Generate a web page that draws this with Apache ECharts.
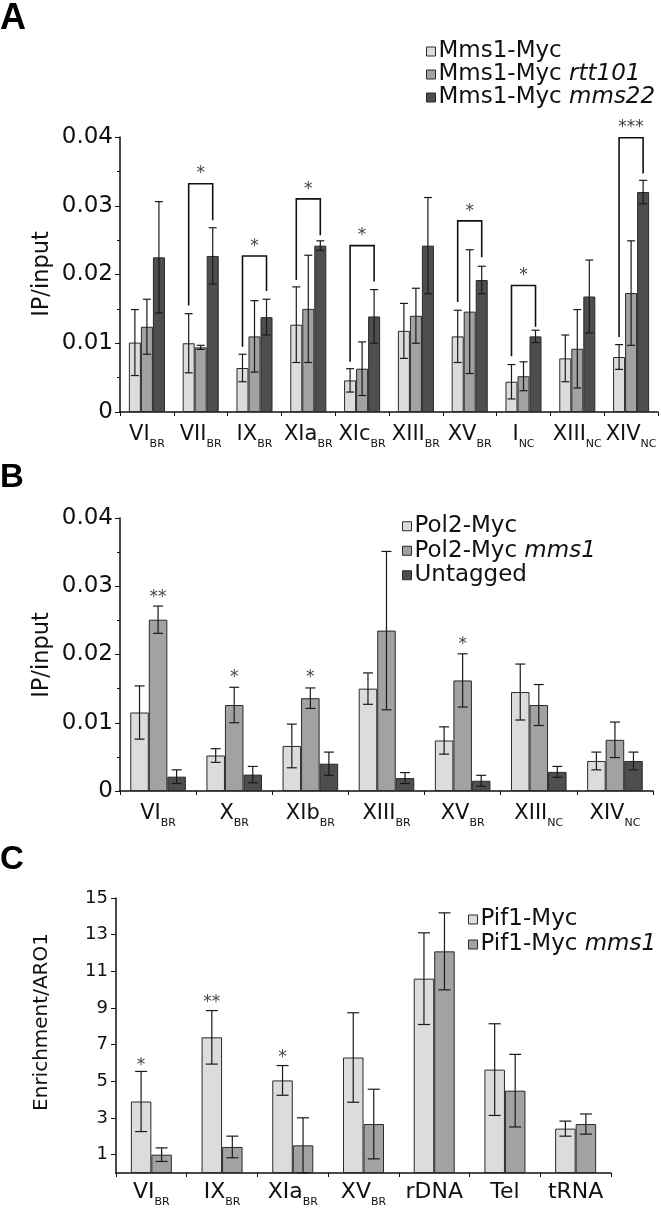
<!DOCTYPE html>
<html><head><meta charset="utf-8">
<script src="https://cdn.jsdelivr.net/npm/echarts@6/dist/echarts.min.js"></script>
<style>html,body{margin:0;padding:0;background:#fff}#c{width:661px;height:1210px}</style>
</head><body><div id="c"></div>
<script>
// ---------- Panel A data ----------
const catsA = ['VI_BR','VII_BR','IX_BR','XIa_BR','XIc_BR','XIII_BR','XV_BR','I_NC','XIII_NC','XIV_NC'];
const seriesNamesA = ['Mms1-Myc','Mms1-Myc rtt101','Mms1-Myc mms22'];
const a1 = [0.0101,0.0100,0.0064,0.0127,0.0046,0.0118,0.0110,0.0044,0.0078,0.0080];
const a1Err = [0.0048,0.0043,0.0020,0.0055,0.0017,0.0040,0.0038,0.0025,0.0034,0.0018];
const a2 = [0.0124,0.0094,0.0110,0.0150,0.0063,0.0140,0.0146,0.0052,0.0092,0.0173];
const a2Err = [0.0040,0.0003,0.0052,0.0078,0.0039,0.0040,0.0090,0.0021,0.0057,0.0076];
const a3 = [0.0225,0.0227,0.0138,0.0242,0.0139,0.0242,0.0192,0.0110,0.0168,0.0320];
const a3Err = [0.0081,0.0041,0.0026,0.0007,0.0039,0.0070,0.0020,0.0009,0.0053,0.0017];
// significance brackets: [category, top, left leg end, right leg end]
const bracketCatsA = [1,2,3,4,6,7,9];
const bracketTopA = [0.0332,0.0227,0.0310,0.0242,0.0278,0.0184,0.0399];
const bracketLeftA = [0.0155,0.0095,0.0192,0.0073,0.0160,0.0081,0.0109];
const bracketRightA = [0.0279,0.0176,0.0257,0.0190,0.0225,0.0124,0.0347];
const starsA = ['*','*','*','*','*','*','***'];

// ---------- Panel B data ----------
const catsB = ['VI_BR','X_BR','XIb_BR','XIII_BR','XV_BR','XIII_NC','XIV_NC'];
const seriesNamesB = ['Pol2-Myc','Pol2-Myc mms1','Untagged'];
const b1 = [0.0115,0.0052,0.0066,0.0150,0.0074,0.0145,0.0044];
const b1Err = [0.0039,0.0010,0.0032,0.0023,0.0020,0.0041,0.0013];
const b2 = [0.0251,0.0126,0.0136,0.0235,0.0162,0.0126,0.0075];
const b2Err = [0.0020,0.0026,0.0015,0.0116,0.0039,0.0030,0.0026];
const b3 = [0.0021,0.0024,0.0040,0.0019,0.0015,0.0028,0.0044];
const b3Err = [0.0010,0.0012,0.0017,0.0008,0.0008,0.0008,0.0013];
const starCatsB = [0,1,2,4];
const starYB = [0.0289,0.0172,0.0172,0.0221];
const starsB = ['**','*','*','*'];

// ---------- Panel C data ----------
const catsC = ['VI_BR','IX_BR','XIa_BR','XV_BR','rDNA','Tel','tRNA'];
const seriesNamesC = ['Pif1-Myc','Pif1-Myc mms1'];
const c1 = [3.9,7.4,5.05,6.3,10.6,5.64,2.42];
const c1Err = [1.64,1.46,0.81,2.44,2.5,2.5,0.41];
const c2 = [1.0,1.42,1.51,2.67,12.09,4.49,2.67];
const c2Err = [0.37,0.59,1.5,1.9,2.1,1.98,0.55];
const starCatsC = [0,1,2];
const starYC = [6.1,9.5,6.5];
const starsC = ['*','**','*'];
const yTicksC = [1,3,5,7,9,11,13,15];

const colors = ['#dcdcdc','#a2a2a2','#4e4e4e'];
const FONT = 'DejaVu Sans';

const chart = echarts.init(document.getElementById('c'), null, {renderer:'canvas'});

function catLabel(v){
  const p = v.split('_');
  return p.length > 1 ? p[0] + '{s|' + p[1] + '}' : p[0];
}
function legendFmt(name){
  const k = name.indexOf(' ');
  return k < 0 ? name : name.slice(0,k) + ' {i|' + name.slice(k+1) + '}';
}
function slotX(api, idx, val, slot, n, gap){
  const c = api.coord([idx, val]);
  const band = api.size([1,0])[0];
  const bw = band*(1-gap)/n;
  return c[0] + (slot-(n-1)/2)*bw;
}
function errSeries(g, vals, errs, slot, n, gap, cap){
  return {type:'custom', xAxisIndex:g, yAxisIndex:g, z:5, silent:true,
    data: vals.map((v,i)=>[i,v,errs[i]]), encode:{x:0,y:1},
    renderItem:(params, api)=>{
      const i=api.value(0), v=api.value(1), e=api.value(2);
      const x = slotX(api,i,v,slot,n,gap);
      const yt = api.coord([i,v+e])[1], yb = api.coord([i,v-e])[1];
      const st = {stroke:'#1a1a1a', lineWidth:1.2};
      return {type:'group', children:[
        {type:'line', shape:{x1:x,y1:yt,x2:x,y2:yb}, style:st},
        {type:'line', shape:{x1:x-cap,y1:yt,x2:x+cap,y2:yt}, style:st},
        {type:'line', shape:{x1:x-cap,y1:yb,x2:x+cap,y2:yb}, style:st}
      ]};
    }};
}
function bracketSeries(g, cats, tops, lefts, rights, n, gap){
  return {type:'custom', xAxisIndex:g, yAxisIndex:g, z:6, silent:true,
    data: cats.map((c,k)=>[c,tops[k],lefts[k],rights[k]]), encode:{x:0,y:1},
    renderItem:(params, api)=>{
      const i=api.value(0), t=api.value(1);
      const xl = slotX(api,i,t,0,n,gap), xr = slotX(api,i,t,n-1,n,gap);
      const yt = api.coord([i,t])[1];
      const yl = api.coord([i,api.value(2)])[1], yr = api.coord([i,api.value(3)])[1];
      return {type:'polyline', shape:{points:[[xl,yl],[xl,yt],[xr,yt],[xr,yr]]},
        style:{stroke:'#111', lineWidth:1.6, fill:null}};
    }};
}
function starSeries(g, cats, ys, labels, slot, n, gap){
  return {type:'custom', xAxisIndex:g, yAxisIndex:g, z:7, silent:true,
    data: cats.map((c,k)=>[c,ys[k]]), encode:{x:0,y:1},
    renderItem:(params, api)=>{
      const i=api.value(0), v=api.value(1);
      const x = slotX(api,i,v,slot,n,gap);
      const y = api.coord([i,v])[1];
      return {type:'text', x:x, y:y+4, style:{text:labels[params.dataIndex], fill:'#444',
        font:'17px "DejaVu Sans"', align:'center', verticalAlign:'middle'}};
    }};
}
function bar(name, g, data, color, gap){
  return {name, type:'bar', xAxisIndex:g, yAxisIndex:g, data, barGap:'0%', barCategoryGap:(gap*100)+'%',
    itemStyle:{color, borderColor:'#2a2a2a', borderWidth:1}, silent:true};
}
function xAxis(g, data, fs, sub, margin){
  return {type:'category', gridIndex:g, data,
    axisLine:{lineStyle:{color:'#111', width:1.5}},
    axisTick:{show:true, length:4, lineStyle:{color:'#111'}},
    axisLabel:{interval:0, margin, color:'#111', fontFamily:FONT, fontSize:fs, formatter:catLabel,
      rich:{s:{fontSize:sub, fontFamily:FONT, color:'#111', verticalAlign:'bottom', padding:[0,0,-5,0]}}}};
}
function legend(names, left, top, lh){
  return {data:names, orient:'vertical', left, top, icon:'rect', itemWidth:9, itemHeight:9, itemGap:0,
    formatter:legendFmt, textStyle:{fontFamily:FONT, fontSize:23, lineHeight:lh, color:'#111', padding:[0,0,0,-2],
    rich:{i:{fontFamily:FONT, fontSize:23, fontStyle:'italic', color:'#111'}}},
    itemStyle:{borderColor:'#2a2a2a', borderWidth:1}};
}
const gA = 0.33, gB = 0.27, gC = 0.42;

const option = {
  animation:false,
  backgroundColor:'#fff',
  grid:[
    {left:120, top:137, width:538, height:275},
    {left:120, top:518, width:533, height:273},
    {left:116, top:898, width:495, height:275}
  ],
  xAxis:[ xAxis(0,catsA,21,11,12), xAxis(1,catsB,21,11,12), xAxis(2,catsC,22,11,8) ],
  yAxis:[
    {type:'value', gridIndex:0, min:0, max:0.04, interval:0.01,
      axisLine:{show:true, lineStyle:{color:'#111', width:1.5}},
      axisTick:{show:true, length:5, lineStyle:{color:'#111'}},
      minorTick:{show:true, splitNumber:2, length:3, lineStyle:{color:'#111'}},
      splitLine:{show:false},
      axisLabel:{margin:7, color:'#111', fontFamily:FONT, fontSize:23, formatter:v=>v===0?'0':v.toFixed(2)}},
    {type:'value', gridIndex:1, min:0, max:0.04, interval:0.01,
      axisLine:{show:true, lineStyle:{color:'#111', width:1.5}},
      axisTick:{show:true, length:5, lineStyle:{color:'#111'}},
      minorTick:{show:true, splitNumber:2, length:3, lineStyle:{color:'#111'}},
      splitLine:{show:false},
      axisLabel:{margin:7, color:'#111', fontFamily:FONT, fontSize:23, formatter:v=>v===0?'0':v.toFixed(2)}},
    {type:'value', gridIndex:2, min:0, max:15,
      axisLine:{show:true, lineStyle:{color:'#111', width:1.5}},
      axisTick:{show:true, length:5, customValues:yTicksC, lineStyle:{color:'#111'}},
      splitLine:{show:false},
      axisLabel:{margin:8, color:'#111', fontFamily:FONT, fontSize:18, customValues:yTicksC}}
  ],
  legend:[
    legend(seriesNamesA, 421, 35, 22.5),
    legend(seriesNamesB, 397, 509, 24.5),
    legend(seriesNamesC, 463, 902, 25)
  ],
  graphic:[
    {type:'text', left:0, top:1, style:{text:'A', font:'bold 36px "Liberation Sans"', fill:'#000'}},
    {type:'text', left:0, top:461, style:{text:'B', font:'bold 33px "Liberation Sans"', fill:'#000'}},
    {type:'text', left:0, top:843, style:{text:'C', font:'bold 33px "Liberation Sans"', fill:'#000'}},
    {type:'text', x:42, y:274, rotation:Math.PI/2, style:{text:'IP/input', font:'22.5px "DejaVu Sans"', fill:'#111', align:'center', verticalAlign:'middle'}},
    {type:'text', x:42, y:655, rotation:Math.PI/2, style:{text:'IP/input', font:'22.5px "DejaVu Sans"', fill:'#111', align:'center', verticalAlign:'middle'}},
    {type:'text', x:42, y:1022, rotation:Math.PI/2, style:{text:'Enrichment/ARO1', font:'20px "DejaVu Sans"', fill:'#111', align:'center', verticalAlign:'middle'}}
  ],
  series:[
    bar(seriesNamesA[0],0,a1,colors[0],gA), bar(seriesNamesA[1],0,a2,colors[1],gA), bar(seriesNamesA[2],0,a3,colors[2],gA),
    errSeries(0,a1,a1Err,0,3,gA,4), errSeries(0,a2,a2Err,1,3,gA,4), errSeries(0,a3,a3Err,2,3,gA,4),
    bracketSeries(0,bracketCatsA,bracketTopA,bracketLeftA,bracketRightA,3,gA),
    starSeries(0,bracketCatsA,bracketTopA.map(v=>v+0.002),starsA,1,3,gA),

    bar(seriesNamesB[0],1,b1,colors[0],gB), bar(seriesNamesB[1],1,b2,colors[1],gB), bar(seriesNamesB[2],1,b3,colors[2],gB),
    errSeries(1,b1,b1Err,0,3,gB,5), errSeries(1,b2,b2Err,1,3,gB,5), errSeries(1,b3,b3Err,2,3,gB,5),
    starSeries(1,starCatsB,starYB,starsB,1,3,gB),

    bar(seriesNamesC[0],2,c1,colors[0],gC), bar(seriesNamesC[1],2,c2,colors[1],gC),
    errSeries(2,c1,c1Err,0,2,gC,6), errSeries(2,c2,c2Err,1,2,gC,6),
    starSeries(2,starCatsC,starYC,starsC,0,2,gC)
  ]
};
chart.setOption(option);
</script></body></html>
